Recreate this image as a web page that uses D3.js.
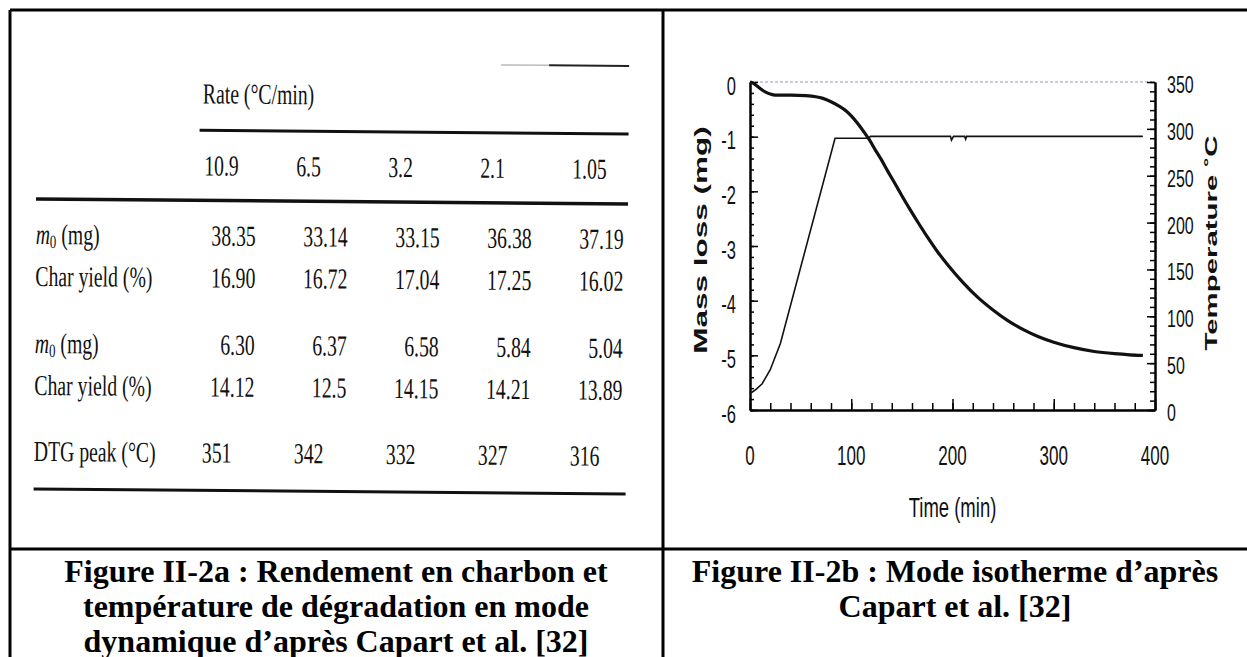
<!DOCTYPE html>
<html><head><meta charset="utf-8">
<script src="https://cdn.jsdelivr.net/npm/d3@7"></script>
<style>body{margin:0;background:#fff;overflow:hidden}</style>
</head><body>
<svg id="c" width="1247" height="657"></svg>
<script>
// ---------- table data ----------
const rates = ["10.9","6.5","3.2","2.1","1.05"];
const m0Big = ["38.35","33.14","33.15","36.38","37.19"];
const charBig = ["16.90","16.72","17.04","17.25","16.02"];
const m0Small = ["6.30","6.37","6.58","5.84","5.04"];
const charSmall = ["14.12","12.5","14.15","14.21","13.89"];
const dtgPeak = ["351","342","332","327","316"];
// ---------- chart data ----------
const timeMass = [0,3,6,10,15,20,25,40,55,65,72,80,88,95,100,106,112,118,124,130,136,142,150,158,166,175,185,196,210,225,240,255,270,285,300,320,340,360,375,388];
const massLoss = [0,-0.02,-0.06,-0.12,-0.18,-0.22,-0.24,-0.24,-0.25,-0.27,-0.3,-0.36,-0.44,-0.53,-0.62,-0.75,-0.9,-1.06,-1.25,-1.43,-1.63,-1.82,-2.08,-2.33,-2.57,-2.83,-3.1,-3.36,-3.66,-3.94,-4.17,-4.37,-4.53,-4.66,-4.76,-4.86,-4.93,-4.97,-4.99,-5.0];
const timeTemp = [0,2,6,12,20,30,84,117,119,198,199,201,212,213,214,388];
const temperature = [18,19,22,28,43,71,290,290,292,292,288,292,292,289,292,292];
const timeTicks = [0,100,200,300,400];
const massTicks = [0,-1,-2,-3,-4,-5,-6];
const tempTicks = [0,50,100,150,200,250,300,350];

const svg = d3.select("#c");
const SERIF = "'Liberation Serif','Times New Roman',serif";
const SANS = "'Liberation Sans',Arial,Helvetica,sans-serif";

// ---------- frame ----------
const frame = svg.append("g").attr("stroke","#000").attr("stroke-width",3);
frame.append("line").attr("x1",10).attr("x2",1247).attr("y1",10).attr("y2",10);
frame.append("line").attr("x1",10).attr("x2",10).attr("y1",10).attr("y2",657);
frame.append("line").attr("x1",663).attr("x2",663).attr("y1",10).attr("y2",657);
frame.append("line").attr("x1",10).attr("x2",1247).attr("y1",549).attr("y2",549);

// ---------- captions ----------
function caption(lines, cx, y0){
  const t = svg.append("g").attr("font-family",SERIF).attr("font-weight","bold")
    .attr("font-size",32).attr("text-anchor","middle").attr("fill","#000");
  lines.forEach((s,i)=>t.append("text").attr("x",cx).attr("y",y0+i*35).text(s));
}
caption(["Figure II-2a : Rendement en charbon et","température de dégradation en mode","dynamique d’après Capart et al. [32]"],336,582);
caption(["Figure II-2b : Mode isotherme d’après","Capart et al. [32]"],955,582);

// ---------- table ----------
const tbl = svg.append("g").attr("transform","rotate(0.48,36,200)");
const colL = d3.scalePoint().domain(d3.range(5)).range([204,572]);
const colR = i => colL(i)+52;
const SX = 0.68, FS = 29;
function ttext(str, x, y, anchor){
  return tbl.append("text").attr("transform",`translate(${x},${y}) scale(${SX},1)`)
    .attr("text-anchor",anchor||"start").attr("font-family",SERIF).attr("font-size",FS)
    .attr("fill","#111").text(str);
}
function m0label(y){
  const t = tbl.append("text").attr("transform",`translate(36,${y}) scale(${SX},1)`)
    .attr("font-family",SERIF).attr("font-size",FS).attr("fill","#111");
  t.append("tspan").attr("font-style","italic").text("m");
  t.append("tspan").attr("font-size",19).attr("dy",4).text("0");
  t.append("tspan").attr("dy",-4).text(" (mg)");
}
const rule = (x1,x2,y,w,c) => tbl.append("line").attr("x1",x1).attr("x2",x2).attr("y1",y).attr("y2",y)
  .attr("stroke",c||"#111").attr("stroke-width",w);
rule(500,548,61,1.5,"#bbb");
rule(548,628,61,2,"#222");
rule(199,628,129,3);
rule(36,628,199,3.5);
rule(36,628,489,3);
ttext("Rate (°C/min)",202,102);
rates.forEach((r,i)=>ttext(r,colL(i),174));
m0label(244);
ttext("Char yield (%)",36,286);
m0label(353);
ttext("Char yield (%)",36,395);
ttext("DTG peak (°C)",36,461);
m0Big.forEach((v,i)=>ttext(v,colR(i),244,"end"));
charBig.forEach((v,i)=>ttext(v,colR(i),286,"end"));
m0Small.forEach((v,i)=>ttext(v,colR(i),353,"end"));
charSmall.forEach((v,i)=>ttext(v,colR(i),395,"end"));
dtgPeak.forEach((v,i)=>ttext(v,colL(i),461,"start"));

// ---------- chart ----------
const x = d3.scaleLinear().domain([0,400]).range([750,1155]);
const yM = d3.scaleLinear().domain([-6,0]).range([410,82]);
const yT = d3.scaleLinear().domain([0,350]).range([410,82]);
const ch = svg.append("g");

ch.append("line").attr("x1",x(0)).attr("x2",x(400)).attr("y1",yM(0)).attr("y2",yM(0))
  .attr("stroke","#b8b8d8").attr("stroke-width",1.5).attr("stroke-dasharray","3,2");

function axisLines(gen, tr){
  const g = ch.append("g").attr("transform",tr).call(gen);
  g.selectAll("text").remove();
  g.select(".domain").attr("stroke","#000").attr("stroke-width",2);
  g.selectAll(".tick line").attr("stroke","#000").attr("stroke-width",1.5);
  return g;
}
axisLines(d3.axisLeft(yM).tickValues(d3.range(-6,0.001,0.2)).tickSizeInner(-4).tickSizeOuter(0).tickFormat(""),`translate(${x(0)},0)`);
axisLines(d3.axisLeft(yM).tickValues(massTicks).tickSizeInner(-8).tickSizeOuter(0).tickFormat(""),`translate(${x(0)},0)`);
axisLines(d3.axisRight(yT).tickValues(d3.range(0,351,10)).tickSizeInner(-5).tickSizeOuter(0).tickFormat(""),`translate(${x(400)},0)`);
axisLines(d3.axisRight(yT).tickValues(tempTicks).tickSizeInner(-8).tickSizeOuter(0).tickFormat(""),`translate(${x(400)},0)`);
axisLines(d3.axisBottom(x).tickValues(d3.range(0,401,20)).tickSizeInner(-7).tickSizeOuter(0).tickFormat(""),`translate(0,${yM(-6)})`);
axisLines(d3.axisBottom(x).tickValues(timeTicks).tickSizeInner(-11).tickSizeOuter(0).tickFormat(""),`translate(0,${yM(-6)})`);

function lab(str, px, py, anchor, fs, sx, sy, weight, rot){
  ch.append("text")
    .attr("transform",`translate(${px},${py})${rot?` rotate(${rot})`:""} scale(${sx},${sy})`)
    .attr("text-anchor",anchor).attr("font-family",SANS).attr("font-size",fs)
    .attr("font-weight",weight||"normal").attr("dy","0.36em").attr("fill","#111").text(str);
}
massTicks.forEach(v=>lab(String(v),736,yM(v)+3,"end",16.5,1,1.6));
tempTicks.forEach(v=>lab(String(v),1167,yT(v)+2,"start",16,1,1.55));
timeTicks.forEach(v=>lab(String(v),x(v),455,"middle",17,1,1.6));
lab("Time (min)",x(200),507,"middle",18.5,1,1.45);
lab("Mass loss (mg)",701,240,"middle",18,1.75,1,"bold",-90);
lab("Temperature \u02DAC",1211,243,"middle",17,1.73,1,"bold",-90);

const lineGen = (xs, ys, sy) => d3.line().x((d,i)=>x(xs[i])).y((d,i)=>sy(ys[i])).curve(d3.curveMonotoneX);
ch.append("path").datum(timeTemp).attr("d",lineGen(timeTemp,temperature,yT).curve(d3.curveLinear))
  .attr("fill","none").attr("stroke","#111").attr("stroke-width",1.6);
ch.append("path").datum(timeMass).attr("d",lineGen(timeMass,massLoss,yM))
  .attr("fill","none").attr("stroke","#111").attr("stroke-width",3.2).attr("stroke-linejoin","round");
</script>
</body></html>
